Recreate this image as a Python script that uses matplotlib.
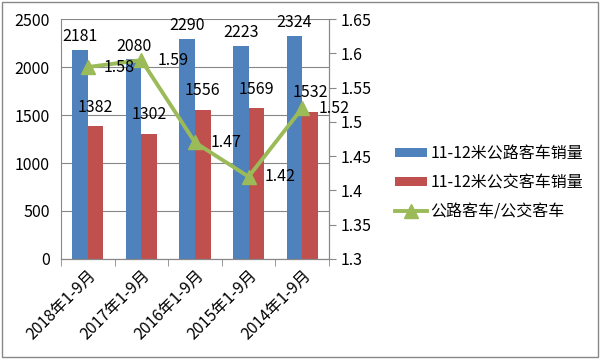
import matplotlib.pyplot as plt
import numpy as np
from matplotlib.patches import Rectangle

plt.rcParams['font.family'] = ['Noto Sans CJK SC', 'DejaVu Sans']

categories = ['2018年1-9月', '2017年1-9月', '2016年1-9月', '2015年1-9月', '2014年1-9月']
highway_sales = [2181, 2080, 2290, 2223, 2324]
bus_sales = [1382, 1302, 1556, 1569, 1532]
ratio = [1.58, 1.59, 1.47, 1.42, 1.52]

BLUE = '#4F81BD'
RED = '#C0504D'
GREEN = '#9BBB59'
FS = 11.5

fig = plt.figure(figsize=(6, 3.59), dpi=100)
ax1 = fig.add_axes([0.1017, 0.2786, 0.4466, 0.6684])
ax2 = ax1.twinx()

x = np.arange(len(categories))
w = 0.29
b1 = ax1.bar(x - w / 2, highway_sales, w, color=BLUE, label='11-12米公路客车销量', zorder=2)
b2 = ax1.bar(x + w / 2, bus_sales, w, color=RED, label='11-12米公交客车销量', zorder=2)

for xi, v in zip(x, highway_sales):
    ax1.text(xi - w / 2, v + 50, str(v), ha='center', va='bottom', fontsize=FS)
for xi, v in zip(x, bus_sales):
    ax1.text(xi + w / 2, v + 110, str(v), ha='center', va='bottom', fontsize=FS)

ln, = ax2.plot(x, ratio, color=GREEN, lw=2.8, marker='^', markersize=10,
               label='公路客车/公交客车', zorder=3)
for xi, v in zip(x, ratio):
    ax2.text(xi + 0.3, v, f'{v:.2f}', ha='left', va='center', fontsize=FS)

ax1.set_xlim(-0.5, len(categories) - 0.5)
ax1.set_ylim(0, 2500)
ax1.set_yticks(np.arange(0, 2501, 500))
ax2.set_ylim(1.3, 1.65)
ax2.set_yticks(np.arange(1.3, 1.651, 0.05))
ax2.set_yticklabels(['1.3', '1.35', '1.4', '1.45', '1.5', '1.55', '1.6', '1.65'])

ax1.set_xticks(x)
ax1.set_xticklabels(categories, rotation=45, ha='right', rotation_mode='anchor', fontsize=FS)
ax1.tick_params(axis='x', length=0, pad=6)
ax1.set_xticks(np.arange(-0.5, len(categories)), minor=True)
ax1.tick_params(axis='x', which='minor', length=5, color='#888888')
ax1.tick_params(axis='y', length=0, labelsize=FS, pad=8)
ax2.tick_params(axis='y', length=5, color='#888888', labelsize=FS)

ax1.grid(axis='y', color='#878787', lw=0.8, zorder=0)
ax1.set_axisbelow(True)
for ax in (ax1, ax2):
    ax.spines['top'].set_visible(False)
    ax.spines['left'].set_visible(False)
    ax.spines['right'].set_color('#888888')
    ax.spines['bottom'].set_color('#888888')
ax2.spines['left'].set_visible(True)
ax2.spines['left'].set_color('#888888')

fig.legend([b1, b2, ln], [b1.get_label(), b2.get_label(), ln.get_label()],
           loc='center left', bbox_to_anchor=(0.635, 0.49), frameon=False,
           fontsize=FS, handlelength=2.0, handleheight=0.5, labelspacing=0.75,
           handletextpad=0.2)

fig.patches.append(Rectangle((0.004, 0.006), 0.992, 0.988, transform=fig.transFigure,
                             fill=False, edgecolor='#888888', lw=1))

fig.savefig('out.png', dpi=100)
